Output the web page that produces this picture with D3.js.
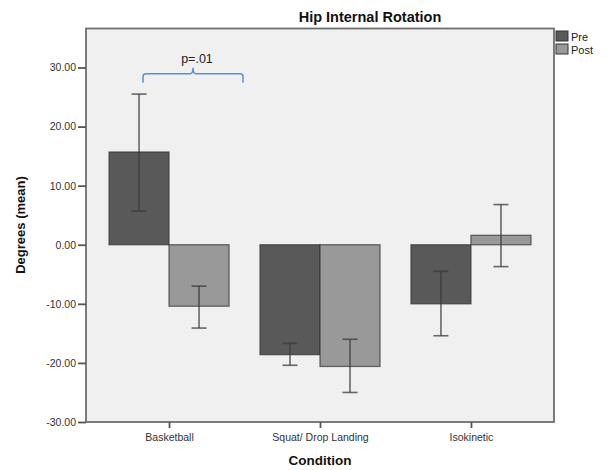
<!DOCTYPE html>
<html>
<head>
<meta charset="utf-8">
<script src="https://cdnjs.cloudflare.com/ajax/libs/d3/7.8.5/d3.min.js"></script>
<style>
  body { margin: 0; background: #fff; }
  text { font-family: Arial, "Liberation Sans", sans-serif; }
</style>
</head>
<body>
<div class="root"></div>
<script>
var conditions = ['Basketball', 'Squat/ Drop Landing', 'Isokinetic'];
var groups = ['Pre', 'Post'];
var preMean = [15.7, -18.6, -10.0];
var postMean = [-10.4, -20.6, 1.6];
var preLow = [5.7, -20.4, -15.4];
var preHigh = [25.5, -16.7, -4.5];
var postLow = [-14.1, -25.0, -3.7];
var postHigh = [-7.0, -16.0, 6.8];
var yTicks = [-30, -20, -10, 0, 10, 20, 30];

var w = 608, h = 470;
var plotLeft = 86, plotRight = 554, plotTop = 28.5, plotBottom = 422;

var colors = { Pre: '#595959', Post: '#999999' };

var rows = [];
conditions.forEach(function(c, i) {
  rows.push({ cond: c, group: 'Pre', mean: preMean[i], lo: preLow[i], hi: preHigh[i] });
  rows.push({ cond: c, group: 'Post', mean: postMean[i], lo: postLow[i], hi: postHigh[i] });
});

var svg = d3.select('.root')
            .append('svg')
            .attr('width', w)
            .attr('height', h);

var y = d3.scaleLinear()
          .domain([-30, 36.6])
          .range([plotBottom, plotTop]);

var x = d3.scalePoint()
          .domain(conditions)
          .range([plotLeft, plotRight])
          .padding(0.55);

var x1 = d3.scaleBand()
           .domain(groups)
           .range([-60, 60]);

// plot background
svg.append('rect')
  .attr('x', plotLeft)
  .attr('y', plotTop)
  .attr('width', plotRight - plotLeft)
  .attr('height', plotBottom - plotTop)
  .attr('fill', '#f0f0f0');

// bars
svg.append('g')
  .selectAll('rect')
    .data(rows)
    .enter().append('rect')
      .attr('x', function(d) { return x(d.cond) + x1(d.group); })
      .attr('y', function(d) { return y(Math.max(0, d.mean)); })
      .attr('width', x1.bandwidth())
      .attr('height', function(d) { return Math.abs(y(d.mean) - y(0)); })
      .attr('fill', function(d) { return colors[d.group]; })
      .attr('stroke', '#333')
      .attr('stroke-opacity', 0.7)
      .attr('stroke-width', 1.3);

// error bars
var err = svg.append('g')
  .selectAll('g')
    .data(rows)
    .enter().append('g')
      .attr('stroke', '#3a3a3a')
      .attr('stroke-opacity', 0.75)
      .attr('stroke-width', 1.6);

err.append('line')
  .attr('x1', function(d) { return x(d.cond) + x1(d.group) + x1.bandwidth() / 2; })
  .attr('x2', function(d) { return x(d.cond) + x1(d.group) + x1.bandwidth() / 2; })
  .attr('y1', function(d) { return y(d.lo); })
  .attr('y2', function(d) { return y(d.hi); });

['lo', 'hi'].forEach(function(k) {
  err.append('line')
    .attr('x1', function(d) { return x(d.cond) + x1(d.group) + x1.bandwidth() / 2 - 7.5; })
    .attr('x2', function(d) { return x(d.cond) + x1(d.group) + x1.bandwidth() / 2 + 7.5; })
    .attr('y1', function(d) { return y(d[k]); })
    .attr('y2', function(d) { return y(d[k]); });
});

// frame
svg.append('rect')
  .attr('x', plotLeft)
  .attr('y', plotTop)
  .attr('width', plotRight - plotLeft)
  .attr('height', plotBottom - plotTop)
  .attr('fill', 'none')
  .attr('stroke', '#6e6e6e')
  .attr('stroke-width', 1.8);

// y axis (plain hyphen for negatives, as in the original)
var yAxis = svg.append('g')
  .attr('transform', 'translate(' + plotLeft + ',0)')
  .call(d3.axisLeft(y).tickValues(yTicks).tickSize(8).tickPadding(2)
          .tickFormat(function(d) { return d.toFixed(2); }));
yAxis.select('.domain').remove();
yAxis.selectAll('.tick line').attr('stroke', '#555').attr('stroke-width', 1.8);
yAxis.selectAll('.tick text')
  .attr('fill', '#333')
  .style('font-size', '10.5px')
  .style('font-family', 'Arial, "Liberation Sans", sans-serif');

// x axis
var xAxis = svg.append('g')
  .attr('transform', 'translate(0,' + plotBottom + ')')
  .call(d3.axisBottom(x).tickSize(6).tickPadding(6));
xAxis.select('.domain').remove();
xAxis.selectAll('.tick line').attr('stroke', '#555').attr('stroke-width', 1.8);
xAxis.selectAll('.tick text')
  .attr('fill', '#333')
  .style('font-size', '10.5px')
  .style('font-family', 'Arial, "Liberation Sans", sans-serif');

// titles
svg.append('text')
  .text('Hip Internal Rotation')
  .attr('x', 370)
  .attr('y', 22)
  .attr('text-anchor', 'middle')
  .style('font-size', '14.5px')
  .style('font-weight', 'bold')
  .attr('fill', '#111');

svg.append('text')
  .text('Condition')
  .attr('x', 320)
  .attr('y', 465)
  .attr('text-anchor', 'middle')
  .style('font-size', '13.5px')
  .style('font-weight', 'bold')
  .attr('fill', '#111');

svg.append('text')
  .text('Degrees (mean)')
  .attr('transform', 'translate(25,225) rotate(-90)')
  .attr('text-anchor', 'middle')
  .style('font-size', '13px')
  .style('font-weight', 'bold')
  .attr('fill', '#111');

// legend
var legend = svg.append('g')
  .selectAll('g')
    .data(groups)
    .enter().append('g')
      .attr('transform', function(d, i) { return 'translate(556,' + (31 + i * 13) + ')'; });

legend.append('rect')
  .attr('width', 12)
  .attr('height', 10)
  .attr('fill', function(d) { return colors[d]; })
  .attr('stroke', '#333')
  .attr('stroke-width', 1);

legend.append('text')
  .text(function(d) { return d; })
  .attr('x', 15)
  .attr('y', 9.5)
  .style('font-size', '11px')
  .attr('fill', '#222');

// significance bracket
var bx0 = x(conditions[0]) - 26, bx1 = x(conditions[0]) + 74, bm = (bx0 + bx1) / 2;
var by = 73.7;
svg.append('path')
  .attr('d', 'M' + bx0 + ',' + (by + 9) + ' L' + bx0 + ',' + (by + 3) +
             ' Q' + bx0 + ',' + by + ' ' + (bx0 + 3) + ',' + by +
             ' L' + (bm - 3) + ',' + by +
             ' Q' + bm + ',' + by + ' ' + bm + ',' + (by - 6) +
             ' Q' + bm + ',' + by + ' ' + (bm + 3) + ',' + by +
             ' L' + (bx1 - 3) + ',' + by +
             ' Q' + bx1 + ',' + by + ' ' + bx1 + ',' + (by + 3) +
             ' L' + bx1 + ',' + (by + 9))
  .attr('fill', 'none')
  .attr('stroke', '#5b8fd0')
  .attr('stroke-width', 1.5);

svg.append('text')
  .text('p=.01')
  .attr('x', 197)
  .attr('y', 63)
  .attr('text-anchor', 'middle')
  .style('font-size', '12.5px')
  .attr('fill', '#222');
</script>
</body>
</html>
